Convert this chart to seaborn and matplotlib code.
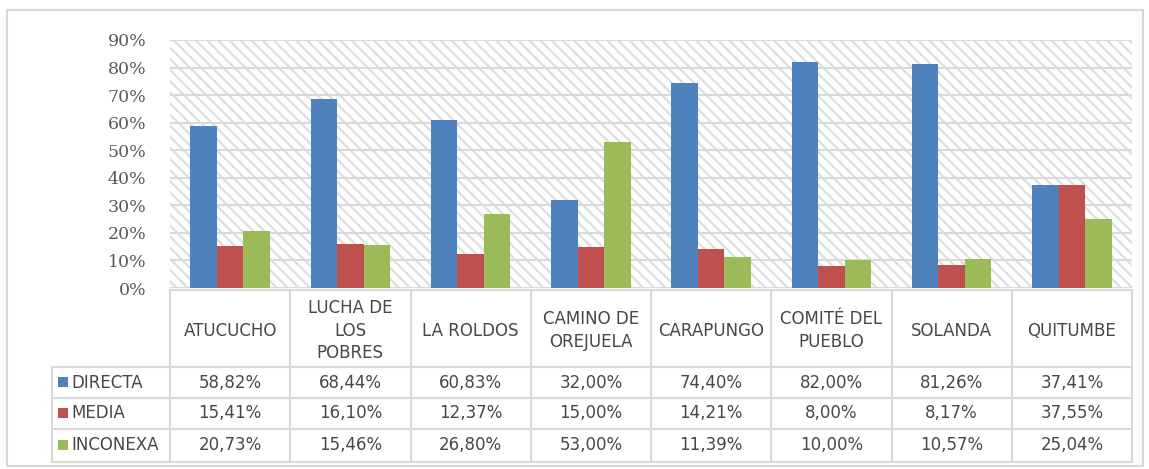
import matplotlib
matplotlib.use("Agg")
import matplotlib.pyplot as plt
from matplotlib.patches import Rectangle
import seaborn as sns
import pandas as pd
import numpy as np

# ----------------------------
# Data
# ----------------------------
zonas = ["ATUCUCHO", "LUCHA DE\nLOS\nPOBRES", "LA ROLDOS", "CAMINO DE\nOREJUELA",
         "CARAPUNGO", "COMITÉ DEL\nPUEBLO", "SOLANDA", "QUITUMBE"]
tipos = ["DIRECTA", "MEDIA", "INCONEXA"]
directa = [58.82, 68.44, 60.83, 32.00, 74.40, 82.00, 81.26, 37.41]
media = [15.41, 16.10, 12.37, 15.00, 14.21, 8.00, 8.17, 37.55]
inconexa = [20.73, 15.46, 26.80, 53.00, 11.39, 10.00, 10.57, 25.04]
colores = ["#4F81BD", "#C0504D", "#9BBB59"]
yticks = [0, 10, 20, 30, 40, 50, 60, 70, 80, 90]

df = pd.DataFrame({
    "zona": zonas * 3,
    "tipo": [t for t in tipos for _ in zonas],
    "valor": directa + media + inconexa,
})

sns.set_style("white")
plt.rcParams["font.family"] = ["DejaVu Sans"]
plt.rcParams["hatch.linewidth"] = 1.6
plt.rcParams["hatch.color"] = "#dedede"

W, H = 1149, 469
fig = plt.figure(figsize=(W / 100, H / 100), dpi=100)

# plot area in pixel coords
left, right, top, bottom = 170, 1132, 40, 288
ax = fig.add_axes([left / W, 1 - bottom / H, (right - left) / W, (bottom - top) / H])

# hatched background
ax.add_patch(Rectangle((0, 0), 1, 1, transform=ax.transAxes, facecolor="white",
                       edgecolor="#dedede", hatch="\\\\\\", lw=0, zorder=0))

sns.barplot(data=df, x="zona", y="valor", hue="tipo", palette=colores,
            width=0.66, saturation=1, legend=False, ax=ax, zorder=3, linewidth=0)

ax.set_xlim(-0.5, len(zonas) - 0.5)
ax.set_ylim(0, 90)
ax.set_yticks(yticks)
ax.set_yticklabels([f"{v}%" for v in yticks], family="DejaVu Serif",
                   fontsize=12.5, color="#595959")
ax.tick_params(axis="y", length=0, pad=17)
ax.set_xticks([])
ax.set_xlabel("")
ax.set_ylabel("")
ax.yaxis.grid(True, color="#d9d9d9", lw=1.5, zorder=1)
ax.set_axisbelow(True)
for s in ax.spines.values():
    s.set_visible(False)

# ----------------------------
# Data table under the bars
# ----------------------------
tab = fig.add_axes([0, 0, 1, 1])
tab.set_xlim(0, W)
tab.set_ylim(H, 0)
tab.axis("off")
tab.patch.set_alpha(0)

line_c = "#d9d9d9"
cols = np.linspace(left, right, len(zonas) + 1)
rows = [290, 367, 398, 429, 462]
tab_left = 52

# outer frame
tab.add_patch(Rectangle((7, 10), 1136, 456, fill=False, edgecolor="#d6d6d6", lw=1.5))

tab.plot([left, right], [rows[0], rows[0]], color=line_c, lw=1.5)
for y in rows[1:]:
    tab.plot([tab_left, right], [y, y], color=line_c, lw=1.5)
for x in cols:
    tab.plot([x, x], [rows[0], rows[-1]], color=line_c, lw=1.5)
tab.plot([tab_left, tab_left], [rows[1], rows[-1]], color=line_c, lw=1.5)

txt_c = "#474747"
centers = (cols[:-1] + cols[1:]) / 2
for cx, z in zip(centers, zonas):
    tab.text(cx, (rows[0] + rows[1]) / 2 + 2, z, ha="center", va="center",
             fontsize=12, color=txt_c, linespacing=1.3)

series = [directa, media, inconexa]
for i, (t, vals, c) in enumerate(zip(tipos, series, colores)):
    cy = (rows[i + 1] + rows[i + 2]) / 2
    tab.add_patch(Rectangle((58, cy - 5), 10, 10, facecolor=c, lw=0))
    tab.text(71, cy, t, ha="left", va="center", fontsize=12, color=txt_c)
    for cx, v in zip(centers, vals):
        tab.text(cx, cy, f"{v:.2f}%".replace(".", ","), ha="center", va="center",
                 fontsize=12, color=txt_c)

fig.savefig("out.png", dpi=100, facecolor="white")
